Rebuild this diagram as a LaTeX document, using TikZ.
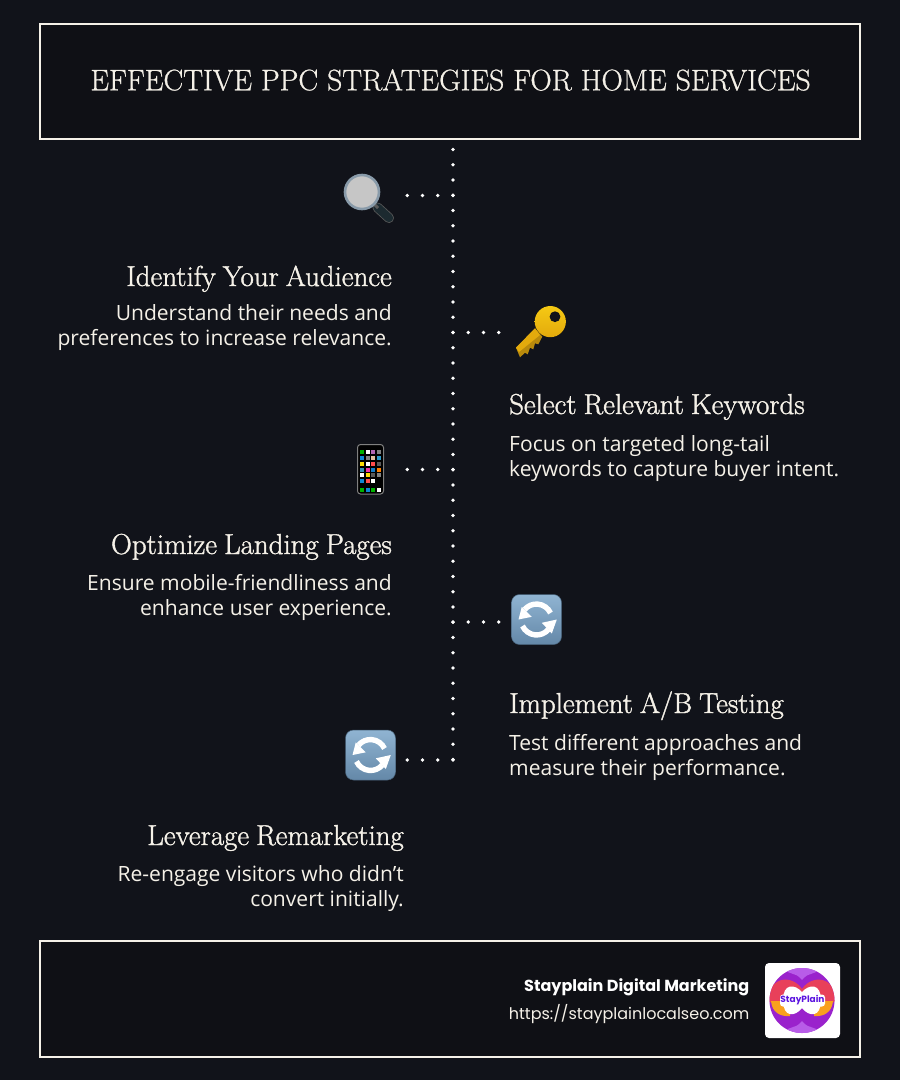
\documentclass[tikz,border=0pt]{standalone}
\usepackage{fontspec}
\setmainfont{Latin Modern Roman}
\newfontfamily\headfont[FakeBold=1.3,WordSpace=0.8]{Latin Modern Roman}
\newfontfamily\titlefont[FakeBold=0.8]{Latin Modern Roman}
\newfontfamily\bodyfont{Open Sans}
\newfontfamily\footfont{Poppins}
\definecolor{pagebg}{HTML}{11131A}
\definecolor{framebg}{HTML}{0F1015}
\definecolor{cream}{HTML}{F5F1E8}
\definecolor{steellight}{HTML}{90B4D2}
\definecolor{steelblue}{HTML}{6488A8}
\definecolor{handledark}{HTML}{1C2A30}
\definecolor{keygold}{HTML}{F5C914}
\definecolor{keymid}{HTML}{E3AA0C}
\definecolor{keydark}{HTML}{B98A0C}
\definecolor{logopurple}{HTML}{9A22CC}
\definecolor{logoviolet}{HTML}{B85CE8}
\definecolor{logored}{HTML}{E8405A}
\definecolor{logoorange}{HTML}{F9A01E}
\tikzset{
    frame/.style = {draw = cream, line width = 2, fill = framebg},
    dotline/.style = {white, line width = 3.8, line cap = round, dash pattern = on 0pt off 15.25pt},
    headline/.style = {text = cream, font = \headfont\fontsize{28.9}{32}\selectfont, inner sep = 0},
    headleft/.style = {headline, anchor = base east},
    headright/.style = {headline, anchor = base west},
    textleft/.style = {text = cream, font = \bodyfont\fontsize{21.05}{25}\selectfont, align = right, anchor = base east, inner sep = 0},
    textright/.style = {text = cream, font = \bodyfont\fontsize{21.05}{25}\selectfont, align = left, anchor = base west, inner sep = 0},
    pics/refresh/.style = {code = {
        \draw [top color = steellight, bottom color = steelblue, draw = steelblue!70!black, line width = 0.5, rounded corners = 8] (-25, -25) rectangle (25, 25);
        \draw [white, line width = 5.4] (14, -6.5) arc (-25 : -140 : 15.5);
        \fill [white] (-18, 0) -- (-4.7, -2.7) -- (-14.7, -12.7) -- cycle;
        \draw [white, line width = 5.4] (-14, 6.5) arc (155 : 40 : 15.5);
        \fill [white] (20.3, 0) -- (5.3, 3.3) -- (15.3, 14) -- cycle;
    }}
}
\begin{document}
\begin{tikzpicture}[x = 1pt, y = -1pt]
    \useasboundingbox [fill = pagebg] (0, 0) rectangle (900, 1080);
    % frames
    \draw [frame] (40, 24) rectangle (860, 139);
    \draw [frame] (40, 941) rectangle (860, 1057);
    \node [text = cream, font = \titlefont\fontsize{29.7}{36}\selectfont, inner sep = 0] (title) at (450.5, 80) {EFFECTIVE PPC STRATEGIES FOR HOME SERVICES};

    % dotted lines
    \coordinate (top) at (453, 149.5);
    \coordinate (bottom) at (453, 760);
    \coordinate (lensend) at (407, 195.5);
    \coordinate (keyend) at (499, 332.5);
    \coordinate (phoneend) at (407, 469.5);
    \coordinate (abend) at (499, 622);
    \coordinate (remarkend) at (407, 760);
    \draw [dotline] (top) -- (bottom);
    \draw [dotline] (lensend -| top) -- (lensend);
    \draw [dotline] (keyend -| top) -- (keyend);
    \draw [dotline] (phoneend -| top) -- (phoneend);
    \draw [dotline] (abend -| top) -- (abend);
    \draw [dotline] (remarkend -| top) -- (remarkend);

    % magnifier
    \draw [line width = 10, line cap = round, gray!70!black] (377.5, 207.5) -- (389, 218);
    \draw [line width = 8.4, line cap = round, handledark] (377.5, 207.5) -- (389, 218);
    \draw [line width = 3, gray!70!black] (373, 203) -- (378, 208);
    \draw [line width = 2.6, fill = gray!45!white, draw = gray!50!steellight] (362, 192) circle (17);

    % key
    \fill [keydark] (535, 328.3) -- (516, 347.7) -- (520, 357.3) -- (525, 352.7) -- (527.7, 354.3) -- (530, 347.7) -- (533.3, 349.3) -- (535, 343.3) -- (538.3, 344.3) -- (542.3, 336.7) -- cycle;
    \fill [keymid] (535, 328.3) -- (516, 347.7) -- (519, 352) -- (540, 335) -- cycle;
    \fill [top color = keygold, bottom color = keymid] (550.3, 321.6) circle (15.6);
    \fill [pagebg] (555, 316.7) circle (5.4);

    % phone
    \draw [line width = 1, draw = gray, fill = black, rounded corners = 3] (357.5, 444.5) rectangle (383.5, 494);
    \foreach \px/\py/\pc in {
        362/451.5/green!70!black, 367.7/451.5/white, 373.3/451.5/violet!60!white, 379/451.5/gray,
        362/457.5/cyan!70!blue, 367.7/457.5/gray, 373.3/457.5/brown!50!white, 379/457.5/cyan!80!black,
        362/463.5/yellow!80!orange, 367.7/463.5/white, 373.3/463.5/red!70!white, 379/463.5/gray!70!black,
        362/469.5/cyan!70!black, 367.7/469.5/magenta!80!white, 373.3/469.5/cyan!60!blue, 379/469.5/orange,
        362/475/white, 367.7/475/yellow!80!orange, 373.3/475/gray!70!black, 379/475/gray,
        362/481/cyan!70!blue, 367.7/481/red!70!white, 373.3/481/white,
        362/489.5/green!70!black, 367.7/489.5/cyan!70!blue, 373.3/489.5/green!70!black, 379/489.5/white} {
        \fill [\pc] (\px - 2, \py - 2) rectangle (\px + 2, \py + 2);
    }

    % refresh icons
    \pic at (536.5, 619.5) {refresh};
    \pic at (370.5, 755) {refresh};

    % texts
    \node [headleft] (audience) at (392, 286) {Identify Your Audience};
    \node [textleft] (audiencetext) at (392, 345) {Understand their needs and\\preferences to increase relevance.};
    \node [headright] (keywords) at (509, 414) {Select Relevant Keywords};
    \node [textright] (keywordstext) at (509, 476) {Focus on targeted long-tail\\keywords to capture buyer intent.};
    \node [headleft] (landing) at (392, 554) {Optimize Landing Pages};
    \node [textleft] (landingtext) at (392, 615) {Ensure mobile-friendliness and\\enhance user experience.};
    \node [headright] (testing) at (509, 713) {Implement A/B Testing};
    \node [textright] (testingtext) at (509, 775) {Test different approaches and\\measure their performance.};
    \node [headleft] (remarketing) at (404, 845) {Leverage Remarketing};
    \node [textleft] (remarketingtext) at (404, 906) {Re-engage visitors who didn’t\\convert initially.};

    % footer
    \node [text = white, font = \footfont\bfseries\fontsize{16}{18}\selectfont, anchor = base east, inner sep = 0] (brand) at (749.5, 991) {Stayplain Digital Marketing};
    \node [text = cream, font = \footfont\fontsize{16}{18}\selectfont, anchor = base east, inner sep = 0] (url) at (749.5, 1019) {https://stayplainlocalseo.com};

    % logo
    \fill [white, rounded corners = 4] (765, 963) rectangle (840, 1038);
    \begin{scope}
        \clip (802, 1000.5) circle (32.5);
        \fill [logopurple] (765, 963) rectangle (840, 1038);
        \fill [logoviolet] (775, 962) .. controls (790, 978) and (794, 970) .. (802, 980) .. controls (810, 970) and (814, 978) .. (829, 962) -- cycle;
        \fill [logoviolet] (775, 1039) .. controls (790, 1023) and (794, 1031) .. (802, 1021) .. controls (810, 1031) and (814, 1023) .. (829, 1039) -- cycle;
        \fill [logored] (768, 1002) .. controls (768, 976) and (792, 974) .. (802, 989) .. controls (812, 974) and (836, 976) .. (836, 1002) -- (821, 1004) -- (783, 1004) -- cycle;
        \fill [logoorange] (771, 1001) .. controls (772, 1012) and (780, 1017) .. (790, 1016) -- (790, 1001) -- cycle;
        \fill [logoorange] (833, 1001) .. controls (832, 1012) and (824, 1017) .. (814, 1016) -- (814, 1001) -- cycle;
        \fill [white] (783, 1000) .. controls (783, 983) and (795, 984) .. (802, 992) .. controls (809, 984) and (821, 983) .. (821, 1000) .. controls (821, 1018) and (809, 1017) .. (802, 1008) .. controls (795, 1017) and (783, 1018) .. (783, 1000) -- cycle;
    \end{scope}
    \fill [white, rounded corners = 3] (780, 994.5) rectangle (825, 1006.5);
    \node [text = logopurple!60!blue, font = \footfont\bfseries\fontsize{9}{12}\selectfont, inner sep = 0] (logotext) at (802.5, 1000.5) {StayPlain};
\end{tikzpicture}
\end{document}
